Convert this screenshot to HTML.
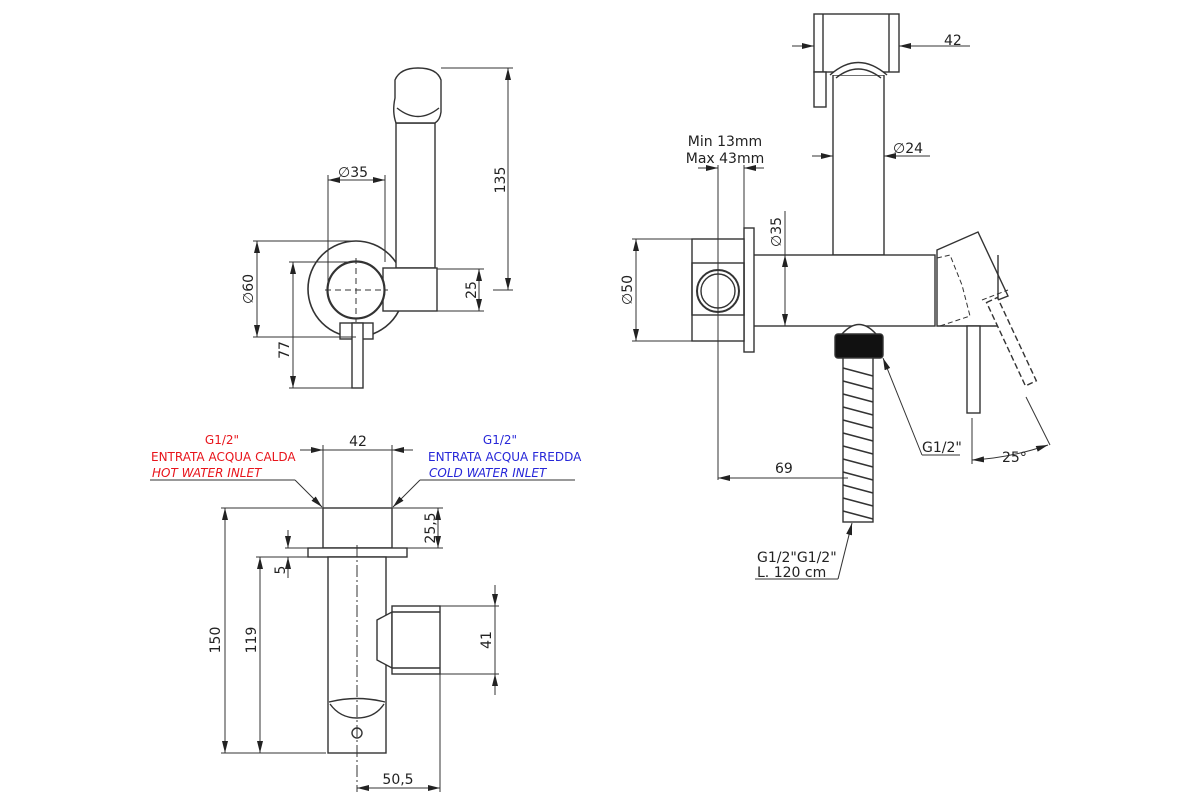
<!DOCTYPE html>
<html><head><meta charset="utf-8"><style>
html,body{margin:0;padding:0;background:#fff;}
svg{display:block;}
text{font-family:"DejaVu Sans","Liberation Sans",sans-serif;font-size:14px;fill:#222;}
</style></head><body>
<svg width="1200" height="800" viewBox="0 0 1200 800" xmlns="http://www.w3.org/2000/svg">
<defs>
<marker id="a" viewBox="0 0 12 6" refX="12" refY="3" markerWidth="12" markerHeight="6" orient="auto-start-reverse" markerUnits="userSpaceOnUse">
<path d="M0,0 L12,3 L0,6 z" fill="#222"/></marker>
</defs>
<g fill="none" stroke="#333" stroke-width="1.4">
<circle cx="356" cy="289" r="48" stroke-width="1.6"/>
<rect x="396" y="123" width="39" height="145" fill="#fff"/>
<rect x="383" y="268" width="54" height="43" fill="#fff"/>
<path d="M396,123 Q392,112 395,98 L395,80 Q400,68 418,68 Q437,68 441,80 L441,112 Q440,120 435,123 Z" fill="#fff"/>
<path d="M397,108 Q418,125 439,108"/>
<circle cx="356" cy="290" r="28.5" fill="#fff" stroke-width="2.2"/>
<rect x="340" y="323" width="33" height="16" fill="#fff"/>
<rect x="352" y="323" width="11" height="65" fill="#fff"/>
<g stroke-width="1" stroke-dasharray="6,4"><line x1="325" y1="290" x2="388" y2="290"/><line x1="356" y1="258" x2="356" y2="322"/></g>
<g stroke-width="1">
<line x1="328" y1="175" x2="328" y2="290"/><line x1="385" y1="175" x2="385" y2="262"/>
<line x1="328" y1="180" x2="385" y2="180" marker-start="url(#a)" marker-end="url(#a)"/>
<line x1="441" y1="68" x2="513" y2="68"/><line x1="493" y1="290" x2="513" y2="290"/>
<line x1="508" y1="68" x2="508" y2="290" marker-start="url(#a)" marker-end="url(#a)"/>
<line x1="437" y1="269" x2="484" y2="269"/><line x1="437" y1="311" x2="484" y2="311"/>
<line x1="479" y1="269" x2="479" y2="311" marker-start="url(#a)" marker-end="url(#a)"/>
<line x1="253" y1="241" x2="356" y2="241"/><line x1="253" y1="337" x2="356" y2="337"/>
<line x1="257" y1="241" x2="257" y2="337" marker-start="url(#a)" marker-end="url(#a)"/>
<line x1="289" y1="262" x2="356" y2="262"/><line x1="289" y1="388" x2="356" y2="388"/>
<line x1="293" y1="262" x2="293" y2="388" marker-start="url(#a)" marker-end="url(#a)"/>
</g>
<rect x="814" y="14" width="85" height="58" fill="#fff"/>
<line x1="823" y1="14" x2="823" y2="72"/><line x1="889" y1="14" x2="889" y2="72"/>
<rect x="814" y="72" width="12" height="35" fill="#fff"/>
<rect x="833" y="75" width="51" height="180" fill="#fff"/>
<path d="M830,75 Q858,50 887,75" fill="#fff"/><path d="M836,78 Q858,60 881,78"/>
<rect x="753" y="255" width="182" height="71" fill="#fff"/>
<rect x="744" y="228" width="10" height="124" fill="#fff"/>
<rect x="692" y="239" width="52" height="102" fill="#fff"/>
<rect x="692" y="263" width="52" height="52"/>
<circle cx="718" cy="291" r="21" stroke-width="2"/><circle cx="718" cy="291" r="17"/>
<path d="M937,250 L978,232 L1008,296 L998,300 L998,326 L937,326 Z" fill="#fff"/>
<line x1="998" y1="255" x2="998" y2="326"/>
<g stroke-dasharray="5,3" stroke-width="1"><path d="M937,258 L950,255 L962,285 L970,316 L940,326"/><path d="M982,300 L1008,290"/></g>
<rect x="967" y="326" width="13" height="87" fill="#fff"/>
<g transform="rotate(-25 992 300)"><rect x="986" y="300" width="12" height="92" fill="#fff" stroke-dasharray="6,3"/></g>
<path d="M842,334 Q859,315 876,334" fill="#fff"/>
<rect x="835" y="334" width="48" height="24" fill="#111" rx="3"/>
<rect x="843" y="358" width="30" height="164" fill="#fff"/>
<g stroke-width="1.6">
<path d="M843,368 L873,376 M843,381 L873,389 M843,394 L873,402 M843,407 L873,415 M843,420 L873,428 M843,433 L873,441 M843,446 L873,454 M843,459 L873,467 M843,472 L873,480 M843,485 L873,493 M843,498 L873,506 M843,511 L873,519"/>
</g>
<g stroke-width="1">
<line x1="632" y1="239" x2="692" y2="239"/><line x1="632" y1="341" x2="692" y2="341"/>
<line x1="636" y1="239" x2="636" y2="341" marker-start="url(#a)" marker-end="url(#a)"/>
<line x1="785" y1="211" x2="785" y2="255"/>
<line x1="785" y1="255" x2="785" y2="326" marker-start="url(#a)" marker-end="url(#a)"/>
<line x1="718" y1="165" x2="718" y2="480"/><line x1="744" y1="165" x2="744" y2="228"/>
<line x1="698" y1="168" x2="718" y2="168" marker-end="url(#a)"/><line x1="764" y1="168" x2="744" y2="168" marker-end="url(#a)"/>
<line x1="718" y1="478" x2="848" y2="478" marker-start="url(#a)"/>
<line x1="812" y1="156" x2="833" y2="156" marker-end="url(#a)"/><line x1="930" y1="156" x2="884" y2="156" marker-end="url(#a)"/>
<line x1="792" y1="46" x2="814" y2="46" marker-end="url(#a)"/><line x1="970" y1="46" x2="899" y2="46" marker-end="url(#a)"/>
<line x1="960" y1="455" x2="922" y2="455"/><line x1="922" y1="455" x2="883" y2="358" marker-end="url(#a)"/>
<line x1="972" y1="418" x2="972" y2="464"/>
<line x1="1026" y1="397" x2="1050" y2="445"/>
<path d="M972,460 Q1010,458 1048,445" marker-start="url(#a)" marker-end="url(#a)"/>
<line x1="755" y1="579" x2="838" y2="579"/><line x1="838" y1="579" x2="852" y2="523" marker-end="url(#a)"/>
</g>
<rect x="323" y="508" width="69" height="40" fill="#fff"/>
<rect x="308" y="548" width="99" height="9" fill="#fff"/>
<rect x="328" y="557" width="58" height="196" fill="#fff"/>
<path d="M377,620 L392,612 L392,668 L377,660 Z" fill="#fff"/>
<rect x="392" y="606" width="48" height="68" fill="#fff"/>
<line x1="392" y1="612" x2="440" y2="612"/><line x1="392" y1="668" x2="440" y2="668"/>
<path d="M329,702 Q357,695 385,702"/><path d="M330,704 Q340,718 357,718 Q375,718 384,704"/>
<circle cx="357" cy="733" r="5"/>
<line x1="357" y1="545" x2="357" y2="792" stroke-width="1" stroke-dasharray="12,3,2,3"/>
<g stroke-width="1">
<line x1="323" y1="445" x2="323" y2="508"/><line x1="392" y1="445" x2="392" y2="508"/>
<line x1="300" y1="450" x2="323" y2="450" marker-end="url(#a)"/><line x1="413" y1="450" x2="392" y2="450" marker-end="url(#a)"/>
<line x1="323" y1="450" x2="392" y2="450"/>
<line x1="150" y1="480" x2="295" y2="480"/><line x1="295" y1="480" x2="322" y2="507" marker-end="url(#a)"/>
<line x1="575" y1="480" x2="420" y2="480"/><line x1="420" y1="480" x2="393" y2="507" marker-end="url(#a)"/>
<line x1="221" y1="508" x2="323" y2="508"/><line x1="221" y1="753" x2="326" y2="753"/>
<line x1="225" y1="508" x2="225" y2="753" marker-start="url(#a)" marker-end="url(#a)"/>
<line x1="256" y1="557" x2="308" y2="557"/>
<line x1="260" y1="557" x2="260" y2="753" marker-start="url(#a)" marker-end="url(#a)"/>
<line x1="392" y1="508" x2="443" y2="508"/><line x1="407" y1="548" x2="443" y2="548"/>
<line x1="438" y1="508" x2="438" y2="548" marker-start="url(#a)" marker-end="url(#a)"/>
<line x1="285" y1="548" x2="308" y2="548"/>
<line x1="288" y1="530" x2="288" y2="548" marker-end="url(#a)"/><line x1="288" y1="578" x2="288" y2="557" marker-end="url(#a)"/>
<line x1="440" y1="606" x2="499" y2="606"/><line x1="440" y1="674" x2="499" y2="674"/>
<line x1="495" y1="585" x2="495" y2="606" marker-end="url(#a)"/><line x1="495" y1="695" x2="495" y2="674" marker-end="url(#a)"/>
<line x1="495" y1="606" x2="495" y2="674"/>
<line x1="440" y1="674" x2="440" y2="792"/>
<line x1="357" y1="788" x2="440" y2="788" marker-start="url(#a)" marker-end="url(#a)"/>
</g>
</g>
<text x="338" y="177">∅35</text>
<text transform="translate(505,180) rotate(-90)" text-anchor="middle">135</text>
<text transform="translate(476,290) rotate(-90)" text-anchor="middle">25</text>
<text transform="translate(253,289) rotate(-90)" text-anchor="middle">∅60</text>
<text transform="translate(289,350) rotate(-90)" text-anchor="middle">77</text>
<text x="944" y="45">42</text>
<text x="893" y="153">∅24</text>
<text x="725" y="146" text-anchor="middle">Min 13mm</text>
<text x="725" y="163" text-anchor="middle">Max 43mm</text>
<text transform="translate(781,232) rotate(-90)" text-anchor="middle">∅35</text>
<text transform="translate(632,290) rotate(-90)" text-anchor="middle">∅50</text>
<text x="775" y="473">69</text>
<text x="922" y="452">G1/2"</text>
<text x="1002" y="462">25°</text>
<text x="757" y="562">G1/2"G1/2"</text>
<text x="757" y="577">L. 120 cm</text>
<text x="358" y="446" text-anchor="middle">42</text>
<text x="222" y="444" text-anchor="middle" style="fill:#e8141b;font-size:12px">G1/2"</text>
<text x="151" y="461" style="fill:#e8141b;font-size:12px">ENTRATA ACQUA CALDA</text>
<text x="152" y="477" style="fill:#e8141b;font-size:12px;font-style:italic">HOT WATER INLET</text>
<text x="500" y="444" text-anchor="middle" style="fill:#2626d8;font-size:12px">G1/2"</text>
<text x="428" y="461" style="fill:#2626d8;font-size:12px">ENTRATA ACQUA FREDDA</text>
<text x="429" y="477" style="fill:#2626d8;font-size:12px;font-style:italic">COLD WATER INLET</text>
<text transform="translate(435,528) rotate(-90)" text-anchor="middle">25,5</text>
<text transform="translate(285,570) rotate(-90)" text-anchor="middle">5</text>
<text transform="translate(220,640) rotate(-90)" text-anchor="middle">150</text>
<text transform="translate(256,640) rotate(-90)" text-anchor="middle">119</text>
<text transform="translate(491,640) rotate(-90)" text-anchor="middle">41</text>
<text x="398" y="784" text-anchor="middle">50,5</text>
</svg>
</body></html>
